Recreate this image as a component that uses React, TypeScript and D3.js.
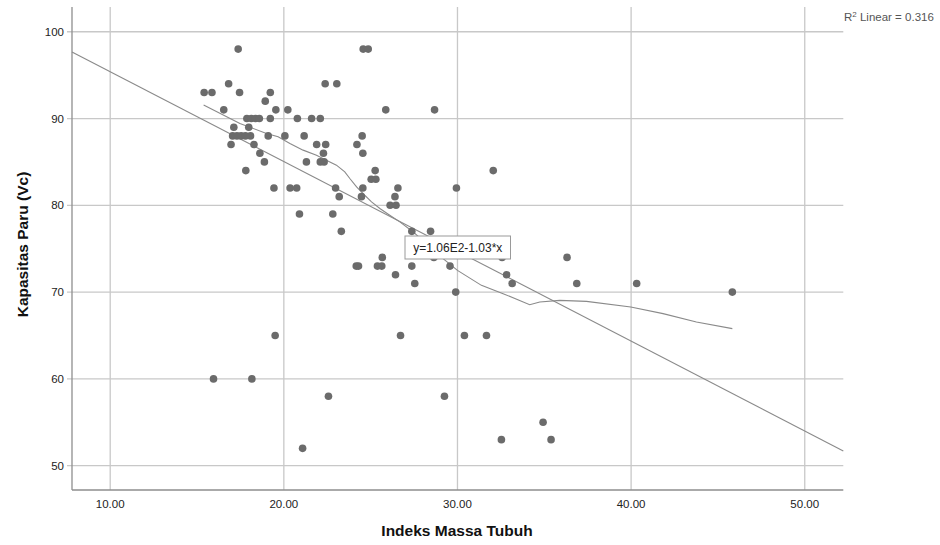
import React from "react";
import * as d3 from "d3";

// BMI (x) values grouped by lung-capacity (y) value
const pointsX: number[] = [
  17.37, 24.57, 24.86,
  16.82, 22.38, 23.05,
  15.41, 15.86, 17.45, 19.22,
  18.93,
  16.54, 19.54, 20.23, 25.87, 28.68,
  17.87, 18.13, 18.37, 18.59, 19.22, 20.78, 21.6, 22.1,
  17.12, 17.98,
  17.05, 17.3, 17.54, 17.79, 18.08, 19.1, 20.06, 21.17, 24.51,
  16.96, 18.28, 21.89, 22.41, 24.21,
  18.62, 22.28, 24.55,
  18.88, 21.3, 22.1, 22.32,
  17.81, 25.26, 32.06,
  25.03, 25.3,
  19.43, 20.36, 20.74, 22.98, 24.55, 26.57, 29.94,
  23.19, 24.47, 26.4,
  26.12, 26.46,
  20.9, 22.82,
  23.31, 27.37, 28.45,
  25.67, 28.64, 32.57, 36.31,
  24.17, 24.3, 25.39, 25.64, 27.37, 29.57,
  26.43, 32.83,
  27.54, 33.15, 36.87, 40.32,
  29.9, 45.83,
  19.5, 26.72, 30.4, 31.67,
  15.95, 18.16,
  22.57, 29.25,
  34.93,
  32.53, 35.39,
  21.08,
];
const pointsY: number[] = [
  98, 98, 98,
  94, 94, 94,
  93, 93, 93, 93,
  92,
  91, 91, 91, 91, 91,
  90, 90, 90, 90, 90, 90, 90, 90,
  89, 89,
  88, 88, 88, 88, 88, 88, 88, 88, 88,
  87, 87, 87, 87, 87,
  86, 86, 86,
  85, 85, 85, 85,
  84, 84, 84,
  83, 83,
  82, 82, 82, 82, 82, 82, 82,
  81, 81, 81,
  80, 80,
  79, 79,
  77, 77, 77,
  74, 74, 74, 74,
  73, 73, 73, 73, 73, 73,
  72, 72,
  71, 71, 71, 71,
  70, 70,
  65, 65, 65, 65,
  60, 60,
  58, 58,
  55,
  53, 53,
  52,
];

// Loess fit curve
const loessX: number[] = [15.38, 17.47, 19.0, 19.67, 20.35, 21.11, 21.88, 22.65, 23.03, 23.51, 23.8, 24.19, 24.66, 25.05, 25.53, 26.1, 26.68, 27.45, 28.3, 29.17, 30.0, 31.38, 32.63, 34.16, 34.74, 35.89, 37.43, 39.98, 41.84, 43.76, 45.83];
const loessY: number[] = [91.55, 89.43, 88.28, 87.89, 87.13, 86.36, 85.78, 85.0, 84.63, 83.85, 83.09, 82.12, 81.16, 80.4, 79.63, 78.86, 78.09, 76.93, 75.4, 73.86, 72.5, 70.78, 69.82, 68.55, 68.86, 69.05, 68.93, 68.28, 67.52, 66.55, 65.79];

// Linear fit
const fitIntercept = 105.75;
const fitSlope = -1.035;
const fitLabel = "y=1.06E2-1.03*x";
const r2Label = "0.316";

const xTicks: number[] = [10, 20, 30, 40, 50];
const yTicks: number[] = [50, 60, 70, 80, 90, 100];
const xDomain: [number, number] = [7.8, 52.22];
const yDomain: [number, number] = [47.2, 102.85];
const xTitle = "Indeks Massa Tubuh";
const yTitle = "Kapasitas Paru (Vc)";

export default function App() {
  const W = 940, H = 545;
  const left = 72, right = 843.3, top = 7, bottom = 490;
  const x = d3.scaleLinear().domain(xDomain).range([left, right]);
  const y = d3.scaleLinear().domain(yDomain).range([bottom, top]);
  const font = "'Liberation Sans', Arial, sans-serif";

  const loessPath = d3
    .line<number>()
    .x((_, i) => x(loessX[i]))
    .y((d) => y(d))(loessY) as string;

  const fitLine = d3
    .line<number>()
    .x((d) => x(d))
    .y((d) => y(fitIntercept + fitSlope * d))(xDomain) as string;

  return (
    <svg
      width={W}
      height={H}
      style={{ position: "absolute", left: 0, top: 0, background: "#fff" }}
      fontFamily={font}
    >
      {/* grid */}
      {yTicks.map((t) => (
        <line key={"gy" + t} x1={left - 5} x2={right} y1={y(t)} y2={y(t)} stroke="#c8c8c8" strokeWidth={1.3} />
      ))}
      {xTicks.map((t) => (
        <line key={"gx" + t} x1={x(t)} x2={x(t)} y1={top} y2={bottom} stroke="#c8c8c8" strokeWidth={1.3} />
      ))}
      {/* axes */}
      <line x1={left} x2={left} y1={top} y2={bottom} stroke="#8e8e8e" strokeWidth={1.3} />
      <line x1={left} x2={right} y1={bottom} y2={bottom} stroke="#8e8e8e" strokeWidth={1.3} />

      {/* tick labels */}
      {yTicks.map((t) => (
        <text key={"ty" + t} x={64} y={y(t)} dy="0.35em" textAnchor="end" fontSize={11.5} fill="#222">
          {t}
        </text>
      ))}
      {xTicks.map((t) => (
        <text key={"tx" + t} x={x(t)} y={508} textAnchor="middle" fontSize={11.5} fill="#222">
          {t.toFixed(2)}
        </text>
      ))}

      {/* titles */}
      <text x={457} y={536} textAnchor="middle" fontSize={15.5} fontWeight="bold" fill="#111">
        {xTitle}
      </text>
      <text
        transform={`translate(28,${(top + bottom) / 2 - 4}) rotate(-90)`}
        textAnchor="middle"
        fontSize={15.5}
        fontWeight="bold"
        fill="#111"
      >
        {yTitle}
      </text>

      {/* fit lines */}
      <path d={fitLine} fill="none" stroke="#8a8a8a" strokeWidth={1.1} />
      <path d={loessPath} fill="none" stroke="#8a8a8a" strokeWidth={1.1} />

      {/* points */}
      {pointsX.map((px, i) => (
        <circle key={i} cx={x(px)} cy={y(pointsY[i])} r={3.8} fill="#6b6b6b" />
      ))}

      {/* equation label */}
      <rect x={405} y={236} width={105.5} height={23} fill="#fff" stroke="#9a9a9a" strokeWidth={1} />
      <text x={457.8} y={252} textAnchor="middle" fontSize={12} fill="#222">
        {fitLabel}
      </text>

      {/* R2 */}
      <text x={844} y={21} fontSize={11.5} fill="#555">
        R<tspan dy={-4.5} fontSize={8}>2</tspan>
        <tspan dy={4.5}> Linear = {r2Label}</tspan>
      </text>
    </svg>
  );
}
